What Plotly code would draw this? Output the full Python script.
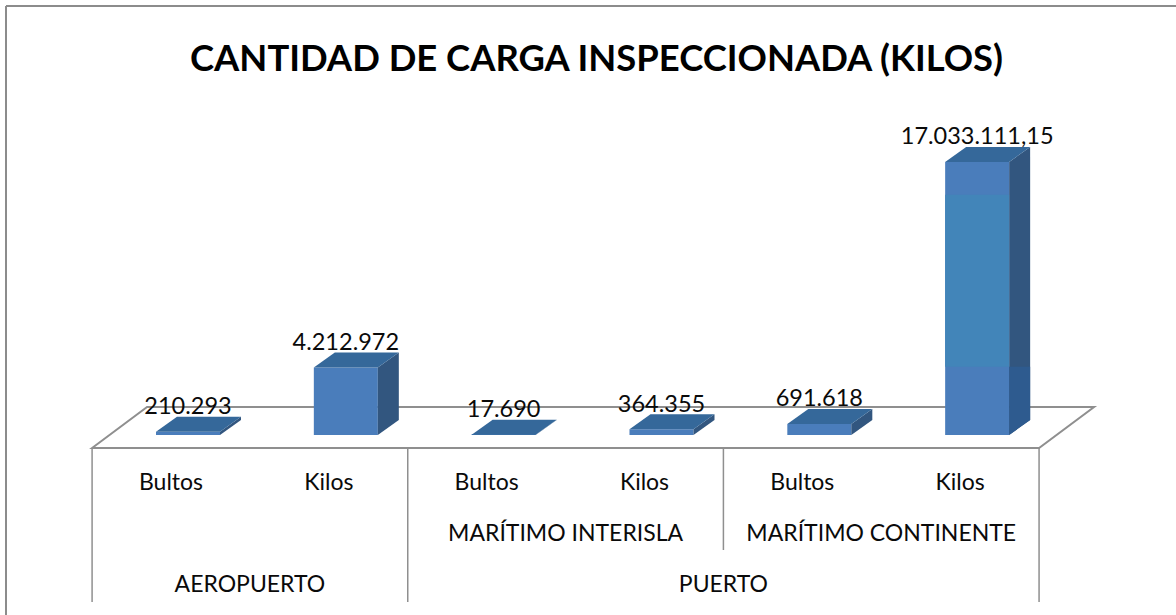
import plotly.graph_objects as go

W, H = 1176, 615
# ---- data
bar_labels = ["Bultos", "Kilos", "Bultos", "Kilos", "Bultos", "Kilos"]
values = [210293, 4212972, 17690, 364355, 691618, 17033111.15]
value_text = ["210.293", "4.212.972", "17.690", "364.355", "691.618", "17.033.111,15"]
mid_groups = ["MARÍTIMO INTERISLA", "MARÍTIMO CONTINENTE"]
mid_centers = [2.5, 4.5]
top_groups = ["AEROPUERTO", "PUERTO"]
top_centers = [0.5, 3.5]
title = "CANTIDAD DE CARGA INSPECCIONADA (KILOS)"

# ---- scales (pixels per data unit) of the pseudo-3D view
PX_X = 157.83          # pixels per category
PX_Y = 273 / 17033111  # pixels per kilo
X0_PX = 171            # pixel of category 0
Y0_PX = 435            # pixel of value 0


def dx(px):
    return px / PX_X


def dy(px):
    return px / PX_Y


x_range = [dx(0 - X0_PX), dx(W - X0_PX)]
y_range = [dy(Y0_PX - H), dy(Y0_PX)]

BAR_W = dx(64)
SHIFT = dx(17)
DEPTH_X = dx(21)
DEPTH_Y = dy(15)
FLOOR_FRONT = dy(-13)
FLOOR_BACK = dy(28)
FLOOR_L = -0.5
FLOOR_R = 5.5
FLOOR_DX = dx(55)

FRONT = "#4A7DBB"
TOP = "#35689A"
SIDE = "#32567F"
LINE = "#8F8F8F"
FONT = "Lato"
TXT = "#0A0A0A"

xs = [i + SHIFT for i in range(len(values))]

fig = go.Figure()

# floor, kept beneath the bars
floor_path = (f"M {FLOOR_L},{FLOOR_FRONT} L {FLOOR_L + FLOOR_DX},{FLOOR_BACK} "
              f"L {FLOOR_R + FLOOR_DX},{FLOOR_BACK} L {FLOOR_R},{FLOOR_FRONT} Z")
fig.add_shape(type="path", path=floor_path, xref="x", yref="y",
              line=dict(color=LINE, width=2), layer="below")

# side and top faces derived from each value
for x, v in zip(xs, values):
    r = x + BAR_W / 2
    l = x - BAR_W / 2
    fig.add_trace(go.Scatter(
        x=[r, r + DEPTH_X, r + DEPTH_X, r, r], y=[0, DEPTH_Y, v + DEPTH_Y, v, 0],
        fill="toself", fillcolor=SIDE, mode="none", hoverinfo="skip", showlegend=False))
    fig.add_trace(go.Scatter(
        x=[l, l + DEPTH_X, r + DEPTH_X, r, l], y=[v, v + DEPTH_Y, v + DEPTH_Y, v, v],
        fill="toself", fillcolor=TOP, mode="none", hoverinfo="skip", showlegend=False))

# front faces
fig.add_trace(go.Bar(x=xs, y=values, width=BAR_W, marker=dict(color=FRONT, line=dict(width=0)),
                     hoverinfo="skip", showlegend=False))

# tonal bands on the tallest bar
tall = max(range(len(values)), key=lambda i: values[i])
fig.add_shape(type="rect", xref="x", yref="y",
              x0=xs[tall] - BAR_W / 2, x1=xs[tall] + BAR_W / 2,
              y0=values[tall] * 0.25, y1=values[tall] * 0.88,
              fillcolor="#4285B9", line_width=0, layer="above")
_r = xs[tall] + BAR_W / 2
_low = values[tall] * 0.25
fig.add_shape(type="path", xref="x", yref="y", layer="above", line_width=0, fillcolor="#2E5B8F",
              path=f"M {_r},0 L {_r + DEPTH_X},{DEPTH_Y} L {_r + DEPTH_X},{_low} L {_r},{_low} Z")

# value labels
fig.add_trace(go.Scatter(
    x=xs, y=[v + dy(23.5) for v in values], text=value_text, mode="text",
    textposition="middle center", textfont=dict(family=FONT, size=23.5, color=TXT),
    hoverinfo="skip", showlegend=False))

# axis separators
y_tick_top = FLOOR_FRONT
y_tick_bot = dy(Y0_PX - 602)
y_tick_mid = dy(Y0_PX - 550)
for xv, yb in [(-0.5, y_tick_bot), (1.5, y_tick_bot), (3.5, y_tick_mid), (5.5, y_tick_bot)]:
    fig.add_trace(go.Scatter(x=[xv, xv], y=[y_tick_top, yb], mode="lines",
                             line=dict(color=LINE, width=1.5), hoverinfo="skip", showlegend=False))


# axis labels, three levels
def text_row(x, labels, ypx):
    fig.add_trace(go.Scatter(x=x, y=[dy(Y0_PX - ypx)] * len(x), text=labels, mode="text",
                             textposition="middle center",
                             textfont=dict(family=FONT, size=23, color=TXT),
                             hoverinfo="skip", showlegend=False))


text_row(list(range(len(bar_labels))), bar_labels, 484)
text_row(mid_centers, mid_groups, 535)
text_row(top_centers, top_groups, 586)

# chart frame: top and left edges only
fig.add_shape(type="line", xref="paper", yref="paper", x0=6 / W, x1=1, y0=1 - 6 / H, y1=1 - 6 / H,
              line=dict(color="#8C8C8C", width=2), layer="below")
fig.add_shape(type="line", xref="paper", yref="paper", x0=6 / W, x1=6 / W, y0=0, y1=1 - 6 / H,
              line=dict(color="#8C8C8C", width=2), layer="below")

fig.update_layout(
    width=W, height=H, margin=dict(l=0, r=0, t=0, b=0),
    paper_bgcolor="white", plot_bgcolor="white", showlegend=False,
    barmode="overlay",
    xaxis=dict(range=x_range, visible=False, fixedrange=True),
    yaxis=dict(range=y_range, visible=False, fixedrange=True),
    annotations=[dict(text=f"<b>{title}</b>", xref="paper", yref="paper", x=596 / W, y=1 - 57 / H,
                      xanchor="center", yanchor="middle", showarrow=False,
                      font=dict(family=FONT, size=36.4, color="#000000"))],
)
fig.write_html("out.html", config={"displayModeBar": False},
               post_script="document.body.style.margin='0';document.documentElement.style.overflow='hidden';")
